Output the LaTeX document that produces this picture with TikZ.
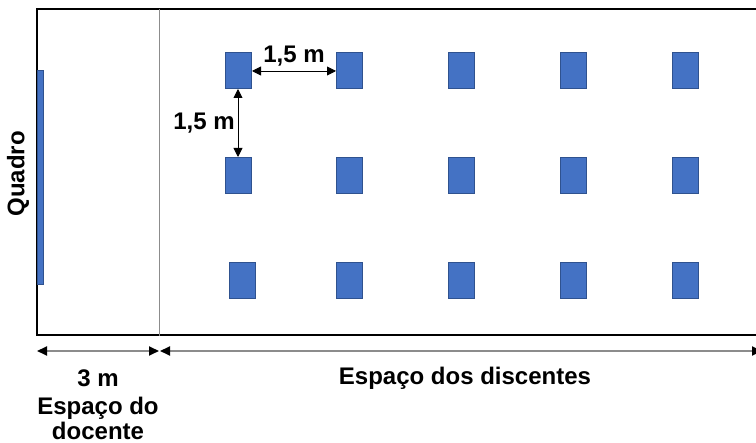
\documentclass[tikz,border=0pt]{standalone}
\usepackage{fontspec}
\setmainfont{Liberation Sans}
\usetikzlibrary{arrows.meta}
\definecolor{deskblue}{HTML}{4472C4}
\definecolor{deskedge}{HTML}{2F528F}
\definecolor{divgray}{HTML}{8C8C8C}
\begin{document}
\begin{tikzpicture}[x=1pt,y=-1pt,
  desk/.style={draw=deskedge,fill=deskblue,line width=1pt,minimum width=26pt,minimum height=36pt,inner sep=0pt,anchor=north west},
  lbl/.style={font=\fontsize{24}{25}\selectfont\bfseries,inner sep=0pt,align=center},
  dim/.style={line width=0.9pt,{Triangle[length=9pt,width=9pt]}-{Triangle[length=9pt,width=9pt]}},
  gdim/.style={draw=divgray,line width=1.8pt,{Triangle[length=10pt,width=9pt,color=black]}-{Triangle[length=10pt,width=9pt,color=black]}}]
\useasboundingbox (0,0) rectangle (756,443);
% room
\draw[line width=1.5pt] (780,9) -- (37,9) -- (37,335) -- (780,335);
\draw[divgray,line width=1pt] (159,9) -- (159,336);
% board
\node[draw=deskedge,fill=deskblue,line width=0.5pt,minimum width=6pt,minimum height=214pt,inner sep=0pt,anchor=north west] (board) at (37,70) {};
\node[lbl,rotate=90] (quadro) at (18,174) {Quadro};
% desks
\foreach \c/\x in {1/225,2/336,3/448,4/560,5/672}{
  \node[desk] (d1\c) at (\x,52) {};
  \node[desk] (d2\c) at (\x,157) {};
}
\node[desk] (d31) at (229,262) {};
\foreach \c/\x in {2/336,3/448,4/560,5/672}{
  \node[desk] (d3\c) at (\x,262) {};
}
% dimension arrows
\coordinate (hy) at (0,71);
\coordinate (vx) at (238,0);
\draw[dim] (d11.east |- hy) -- (d12.west |- hy);
\node[lbl] (h15) at (294,56) {1,5 m};
\draw[dim] (vx |- d11.south) -- (vx |- d21.north);
\node[lbl] (v15) at (204,123) {1,5 m};
% bottom
\coordinate (bl) at (37,351);
\coordinate (bm1) at (159,351);
\coordinate (bm2) at (160,351);
\coordinate (br) at (762,351);
\draw[gdim] (bl) -- (bm1);
\draw[gdim] (bm2) -- (br);
\node[lbl] (tres) at (98,378) {3 m};
\node[lbl] (disc) at (465,378) {Espaço dos discentes};
\node[lbl] (doc) at (98,418) {Espaço do\\docente};
\end{tikzpicture}
\end{document}
